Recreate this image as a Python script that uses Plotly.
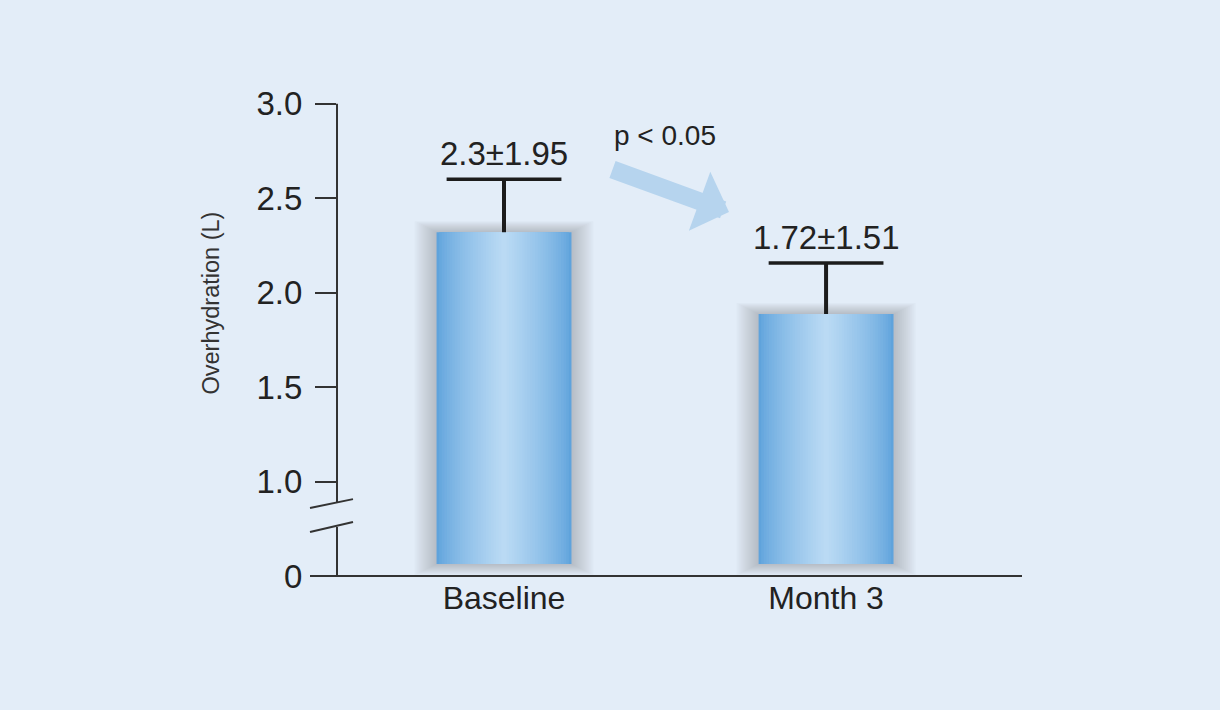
import plotly.graph_objects as go

# ---- data ----
categories = ["Baseline", "Month 3"]
bar_tops = [2.32, 1.887]          # plotted bar heights on the drawn axis
err_up = [0.28, 0.27]             # upper error bar length
bar_labels = ["2.3±1.95", "1.72±1.51"]
tick_vals = [0.5, 1.0, 1.5, 2.0, 2.5, 3.0]   # 0 sits at 0.5 (broken axis)
tick_text = ["0", "1.0", "1.5", "2.0", "2.5", "3.0"]
p_text = "p < 0.05"
y_title = "Overhydration (L)"

# ---- style ----
BG = "#e3edf8"
FONT = "Liberation Sans"
TXT = "#222222"
AX = "#333333"
ERR = "#1c1c1c"
BAR_FLOOR = 0.563
BAR_W = 0.419
EDGE = (95, 163, 220)
CENTER = (186, 218, 244)

L, R, T, B = 337, 198, 90, 134
W_, H_ = 1220, 710
PW, PH = W_ - L - R, H_ - T - B
px_x = 2.127 / PW      # x units per pixel
px_y = 2.573 / PH      # y units per pixel

fig = go.Figure()

# soft shadow layers
NS = 11
for k in range(NS, 0, -1):
    d = k * 2.0
    lo = BAR_FLOOR - k * 1.0 * px_y
    fig.add_trace(go.Bar(
        x=categories,
        y=[t + k * 1.0 * px_y - lo for t in bar_tops],
        base=lo,
        width=BAR_W + 2 * d * px_x,
        marker=dict(color="rgba(80,85,95,0.03)", line=dict(width=0)),
        hoverinfo="skip", showlegend=False))

# gradient layers
NG = 26
for i in range(NG):
    t = (i / (NG - 1)) ** 0.75
    c = tuple(int(round(EDGE[j] + (CENTER[j] - EDGE[j]) * t)) for j in range(3))
    w = BAR_W * (1 - i / NG)
    last = i == NG - 1
    fig.add_trace(go.Bar(
        x=categories,
        y=[v - BAR_FLOOR for v in bar_tops],
        base=BAR_FLOOR,
        width=w,
        marker=dict(color="rgb(%d,%d,%d)" % c, line=dict(width=0)),
        error_y=dict(type="data", symmetric=False, array=err_up,
                     arrayminus=[0, 0], color=ERR, thickness=4,
                     width=0, visible=True) if last else None,
        hoverinfo="skip", showlegend=False))

# error bar caps
fig.add_trace(go.Scatter(
    x=categories, y=[t + e for t, e in zip(bar_tops, err_up)],
    mode="markers",
    marker=dict(symbol="line-ew", size=82, color=ERR,
                line=dict(width=3.5, color=ERR)),
    hoverinfo="skip", showlegend=False))

shapes = []
line = dict(color=AX, width=2)
# y axis with break
shapes.append(dict(type="line", xref="paper", yref="y", x0=0, x1=0,
                   y0=3.0, y1=0.891, line=line))
shapes.append(dict(type="line", xref="paper", yref="y", x0=0, x1=0,
                   y0=0.759, y1=0.5, line=line))
bx0, bx1 = -27 / PW, 16 / PW
shapes.append(dict(type="line", xref="paper", yref="y", x0=bx0, x1=bx1,
                   y0=0.86, y1=0.907, line=line))
shapes.append(dict(type="line", xref="paper", yref="y", x0=bx0, x1=bx1,
                   y0=0.733, y1=0.786, line=line))
# x axis line
shapes.append(dict(type="line", xref="paper", yref="paper", x0=bx0, x1=1,
                   y0=0, y1=0, line=line))

annotations = []
for c, top, e, lab in zip(categories, bar_tops, err_up, bar_labels):
    annotations.append(dict(x=c, y=top + e, xref="x", yref="y", text=lab,
                            showarrow=False, yanchor="bottom", yshift=5,
                            font=dict(family=FONT, size=33, color=TXT)))
annotations.append(dict(x=(665 - L) / PW, y=(576 - 153) / PH, xref="paper",
                        yref="paper", text=p_text, showarrow=False,
                        xanchor="center", yanchor="bottom",
                        font=dict(family=FONT, size=28, color=TXT)))
annotations.append(dict(x=(729 - L) / PW, y=(576 - 212) / PH, xref="paper",
                        yref="paper", text="", showarrow=True, arrowhead=1,
                        arrowsize=0.58, arrowwidth=18, arrowcolor="#b6d4ee",
                        axref="pixel", ayref="pixel", ax=-118, ay=-43, standoff=0))
annotations.append(dict(x=(210 - L) / PW, y=(576 - 303.5) / PH, xref="paper",
                        yref="paper", text=y_title, showarrow=False, textangle=-90,
                        xanchor="center", yanchor="middle",
                        font=dict(family=FONT, size=23.5, color="#333333")))

fig.update_layout(
    width=W_, height=H_,
    margin=dict(l=L, r=R, t=T, b=B),
    paper_bgcolor=BG, plot_bgcolor=BG,
    barmode="overlay",
    showlegend=False,
    hovermode=False,
    shapes=shapes,
    annotations=annotations,
    xaxis=dict(range=[-0.5186, -0.5186 + 2.127], showgrid=False, zeroline=False,
               showline=False, ticks="", tickfont=dict(family=FONT, size=32, color=TXT)),
    yaxis=dict(range=[0.5, 0.5 + 2.573], showgrid=False, zeroline=False,
               showline=False, ticks="outside", ticklen=21, tickwidth=2,
               tickcolor=AX, tickvals=tick_vals, ticktext=tick_text,
               ticklabelstandoff=6,
               tickfont=dict(family=FONT, size=33, color=TXT)),
)

fig.write_html("out.html",
               config={"displayModeBar": False, "staticPlot": True},
               post_script="document.body.style.margin='0';document.body.style.overflow='hidden';")
